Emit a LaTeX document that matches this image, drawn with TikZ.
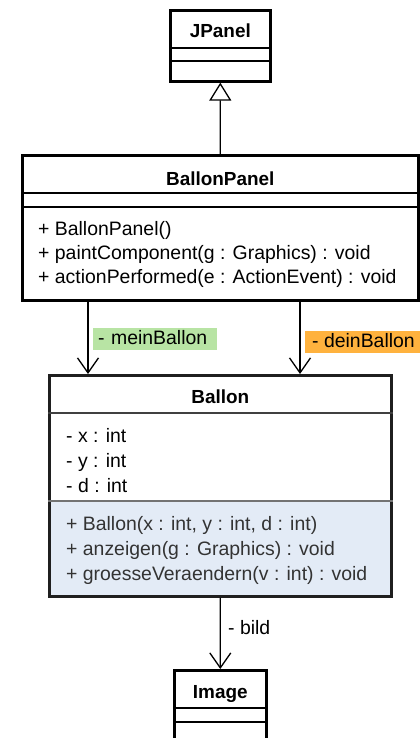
\documentclass[tikz,border=0pt]{standalone}
\usepackage{fontspec}
\setmainfont{Liberation Sans}
\usetikzlibrary{arrows.meta,backgrounds}
\definecolor{lblgreen}{RGB}{184,228,164}
\definecolor{lblorange}{RGB}{255,178,62}
\definecolor{opfill}{RGB}{227,235,246}
\begin{document}
\begin{tikzpicture}[x=1bp,y=-1bp,
  classbox/.style={draw=black, line width=2.6bp, inner sep=0, anchor=north west},
  sepline/.style={line width=1.3bp},
  classtitle/.style={font=\fontsize{19}{23}\selectfont\bfseries, anchor=base, inner sep=0},
  member/.style={font=\fontsize{19.5}{24}\selectfont, anchor=base west, inner sep=0},
  rolelabel/.style={font=\fontsize{19.5}{24}\selectfont, anchor=west, inner xsep=5bp,
    inner ysep=2bp, text height=14bp, text depth=4bp},
  assoc/.style={line width=1.3bp, -{Straight Barb[length=15bp,width=21bp,line width=1.3bp]}},
  inherit/.style={line width=1.3bp, -{Triangle[open,length=18bp,width=22bp,line width=1.3bp,fill=white]}}]

\useasboundingbox (0,0) rectangle (419,738);

% --- JPanel ---
\node[classbox, minimum width=100bp, minimum height=71bp] (jp) at (169,9) {};
\draw[sepline] ([yshift=-39bp]jp.north west) -- ([yshift=-39bp]jp.north east);
\draw[sepline] ([yshift=-52bp]jp.north west) -- ([yshift=-52bp]jp.north east);
\node[classtitle] (jpt) at ([yshift=-29bp]jp.north) {JPanel};

% --- BallonPanel ---
\node[classbox, minimum width=396bp, minimum height=145bp] (bp) at (21,154) {};
\draw[sepline] ([yshift=-39bp]bp.north west) -- ([yshift=-39bp]bp.north east);
\draw[sepline] ([yshift=-53bp]bp.north west) -- ([yshift=-53bp]bp.north east);
\node[classtitle] (bpt) at ([yshift=-31bp]bp.north) {BallonPanel};
\node[member] (bpm1) at (38,235) {+ BallonPanel()};
\node[member] (bpm2) at (38,259) {+ paintComponent(g : Graphics) : void};
\node[member] (bpm3) at (38,283) {+ actionPerformed(e : ActionEvent) : void};

% --- Ballon ---
\node[classbox, draw=black!88, minimum width=342bp, minimum height=221bp] (bl) at (48,374) {};
\begin{scope}[on background layer]
  \fill[opfill] ([yshift=-127bp]bl.north west) rectangle (bl.south east);
\end{scope}
\draw[sepline, draw=black!75] ([yshift=-39bp]bl.north west) -- ([yshift=-39bp]bl.north east);
\draw[sepline, draw=black!55] ([yshift=-127bp]bl.north west) -- ([yshift=-127bp]bl.north east);
\node[classtitle] (blt) at ([yshift=-29bp]bl.north) {Ballon};
\node[member] (bla1) at (66,442) {- x : int};
\node[member] (bla2) at (66,467) {- y : int};
\node[member] (bla3) at (66,492) {- d : int};
\node[member, text=black!80] (blm1) at (66,530) {+ Ballon(x : int, y : int, d : int)};
\node[member, text=black!80] (blm2) at (66,555) {+ anzeigen(g : Graphics) : void};
\node[member, text=black!80] (blm3) at (66,580) {+ groesseVeraendern(v : int) : void};

% --- Image ---
\node[classbox, minimum width=92bp, minimum height=72bp] (img) at (173,669) {};
\draw[sepline] ([yshift=-39bp]img.north west) -- ([yshift=-39bp]img.north east);
\draw[sepline] ([yshift=-53bp]img.north west) -- ([yshift=-53bp]img.north east);
\node[classtitle] (imgt) at ([yshift=-29bp]img.north) {Image};

% --- relations ---
\coordinate (xl) at (88,0);
\coordinate (xr) at (300,0);
\draw[inherit] (bp.north) -- (jp.south);
\draw[assoc] (bp.south -| xl) -- (bl.north -| xl);
\draw[assoc] (bp.south -| xr) -- (bl.north -| xr);
\draw[assoc] (bl.south) -- (img.north);

\node[rolelabel, fill=lblgreen, minimum width=124bp, align=left, text width=114bp] (lmein) at (93,339) {- meinBallon};
\node[rolelabel, fill=lblorange, inner xsep=7bp] (ldein) at (305,342) {- deinBallon};
\node[member] (lbild) at (228,634) {- bild};
\end{tikzpicture}
\end{document}
